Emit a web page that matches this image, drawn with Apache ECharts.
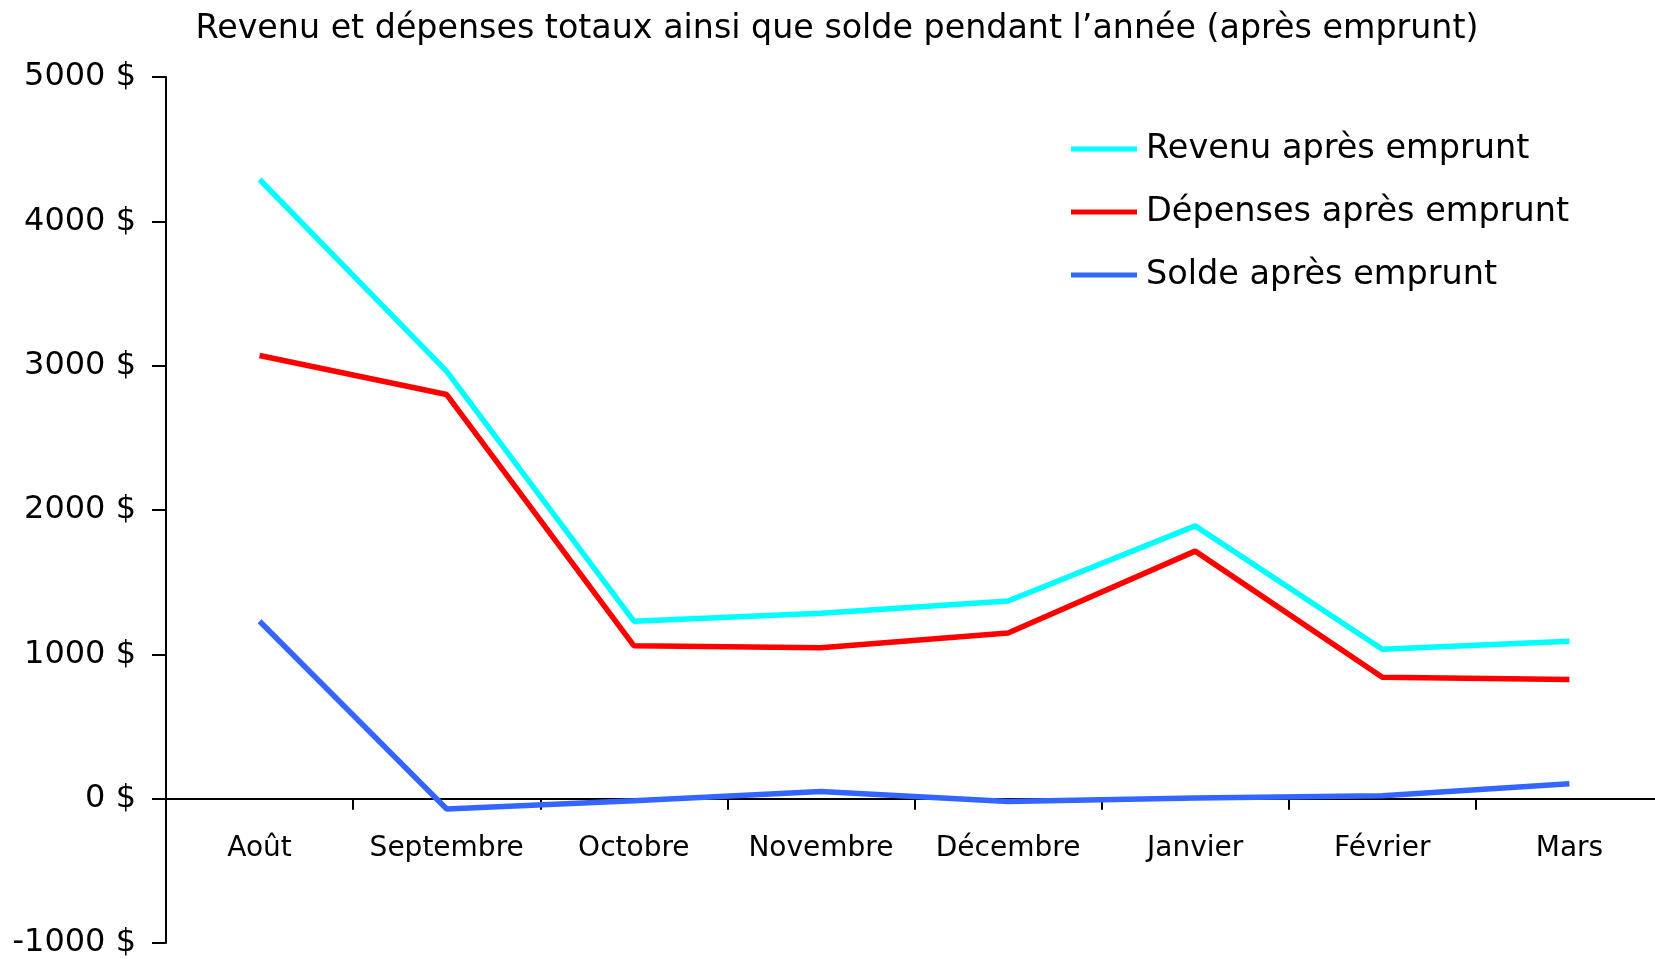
<!DOCTYPE html>
<html>
<head>
<meta charset="utf-8">
<script src="https://cdn.jsdelivr.net/npm/echarts@6/dist/echarts.min.js"></script>
<style>
html,body{margin:0;padding:0;background:#fff;}
#chart{width:1655px;height:959px;}
</style>
</head>
<body>
<div id="chart"></div>
<script>
const categories = ['Août', 'Septembre', 'Octobre', 'Novembre', 'Décembre', 'Janvier', 'Février', 'Mars'];
const revenu = [4290, 2960, 1230, 1285, 1370, 1890, 1035, 1090];
const depenses = [3070, 2800, 1060, 1045, 1148, 1715, 841, 825];
const solde = [1229, -72, -15, 50, -20, 5, 20, 103];
const seriesNames = ['Revenu après emprunt', 'Dépenses après emprunt', 'Solde après emprunt'];
const titleText = 'Revenu et dépenses totaux ainsi que solde pendant l\u2019année (après emprunt)';
const yMin = -1000, yMax = 5000, yStep = 1000;

const FONT = '"DejaVu Sans", Verdana, sans-serif';
const GRID_TOP = 77, GRID_BOTTOM = 16, H = 959;
const plotH = H - GRID_TOP - GRID_BOTTOM;
const zeroOffset = plotH * (0 - yMin) / (yMax - yMin);

const chart = echarts.init(document.getElementById('chart'));
const mk = (name, data, color) => ({
  name: name, type: 'line', data: data, symbol: 'none', xAxisIndex: 0,
  lineStyle: { color: color, width: 5.5 }, itemStyle: { color: color },
  animation: false
});
chart.setOption({
  animation: false,
  title: {
    text: titleText, left: 832, top: 8, textAlign: 'center',
    textStyle: { fontFamily: FONT, fontSize: 33.3, fontWeight: 'normal', color: '#000' }
  },
  legend: {
    orient: 'vertical', left: 1071, top: 132, itemGap: 29, padding: 0,
    itemWidth: 66, itemHeight: 5, icon: 'rect',
    textStyle: { fontFamily: FONT, fontSize: 33.5, color: '#000', padding: [0,0,0,4] },
    data: seriesNames
  },
  grid: { left: 166, right: -8, top: GRID_TOP, bottom: GRID_BOTTOM, containLabel: false, outerBoundsMode: 'none' },
  xAxis: [{
    type: 'category', data: categories, boundaryGap: true,
    axisLine: { onZero: true, lineStyle: { color: '#000', width: 2 } },
    axisTick: { show: true, length: 11, lineStyle: { color: '#000', width: 2 } },
    axisLabel: { show: false }
  }, {
    type: 'category', data: categories, boundaryGap: true, position: 'bottom',
    offset: -zeroOffset,
    axisLine: { show: false, onZero: false }, axisTick: { show: false },
    axisLabel: { fontFamily: FONT, fontSize: 28, color: '#000', margin: 36, interval: 0 }
  }],
  yAxis: {
    type: 'value', min: yMin, max: yMax, interval: yStep,
    axisLine: { show: true, lineStyle: { color: '#000', width: 2 } },
    axisTick: { show: true, length: 14, lineStyle: { color: '#000', width: 2 } },
    splitLine: { show: false },
    axisLabel: { fontFamily: FONT, fontSize: 32, color: '#000', margin: 30,
      formatter: v => v + ' $' }
  },
  series: [
    mk(seriesNames[0], revenu, '#00FFFF'),
    mk(seriesNames[1], depenses, '#FF0000'),
    mk(seriesNames[2], solde, '#3366FF')
  ]
});
</script>
</body>
</html>
